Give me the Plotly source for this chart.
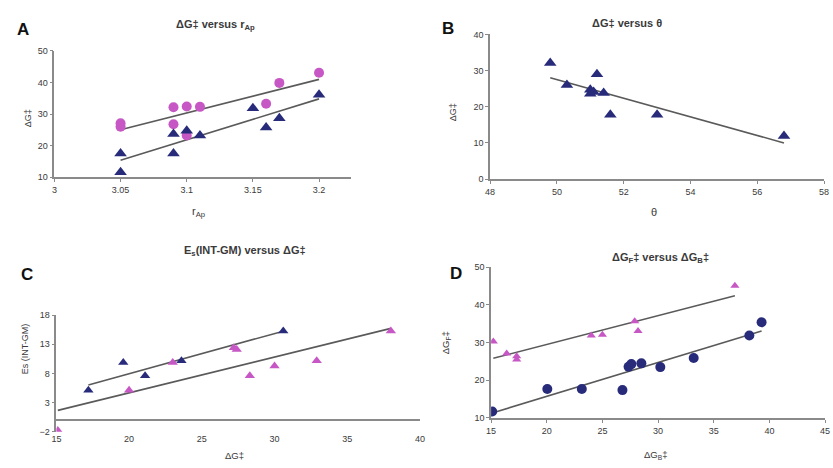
import numpy as np
import plotly.graph_objects as go

W, H = 833, 468

# ---------------- data ----------------
# Panel A: dG versus r_Ap
a_circ_x = [3.05, 3.05, 3.09, 3.09, 3.10, 3.10, 3.11, 3.16, 3.17, 3.20]
a_circ_y = [27.1, 26.0, 32.2, 26.8, 32.4, 23.2, 32.3, 33.3, 39.9, 43.1]
a_tri_x = [3.05, 3.05, 3.09, 3.09, 3.10, 3.11, 3.15, 3.16, 3.17, 3.20]
a_tri_y = [17.5, 11.6, 23.7, 17.5, 24.7, 23.2, 31.9, 25.8, 28.7, 36.1]
a_xticks = [3.0, 3.05, 3.1, 3.15, 3.2]
a_xtext = ["3", "3.05", "3.1", "3.15", "3.2"]

# Panel B: dG versus theta
b_tri_x = [49.8, 50.3, 51.2, 51.0, 51.0, 51.1, 51.4, 51.6, 53.0, 56.8]
b_tri_y = [32.1, 26.0, 29.0, 24.7, 23.6, 24.1, 23.8, 17.8, 17.8, 11.9]

# Panel C: Es(INT-GM) versus dG
c_navy_x = [17.2, 19.6, 21.1, 23.6, 30.6]
c_navy_y = [5.1, 9.9, 7.6, 10.2, 15.3]
c_mag_x = [15.1, 20.0, 23.0, 27.2, 27.4, 28.3, 30.0, 32.9, 38.0]
c_mag_y = [-1.8, 5.1, 9.9, 12.4, 12.1, 7.6, 9.3, 10.2, 15.3]

# Panel D: dG_F versus dG_B
d_mag_x = [15.2, 16.4, 17.3, 17.3, 24.0, 25.0, 27.9, 28.2, 36.9]
d_mag_y = [30.3, 27.1, 26.4, 25.5, 31.9, 32.1, 35.7, 33.1, 45.1]
d_navy_x = [15.1, 20.05, 23.15, 26.8, 27.35, 27.6, 28.5, 30.2, 33.2, 38.2, 39.3]
d_navy_y = [11.7, 17.7, 17.7, 17.4, 23.6, 24.3, 24.5, 23.5, 25.9, 31.9, 35.4]

NAVY = "#272b7a"
MAG = "#c757c4"
LINE = "#5a5a5a"
AX = "#8a8a8a"
TXT = "#3a3a3a"
FONT = "Liberation Sans, Arial, sans-serif"


def px_x(a, b):
    return [a / W, b / W]


def px_y(top, bottom):
    return [1 - bottom / H, 1 - top / H]


fig = go.Figure()


def add_pts(x, y, color, symbol, size, xa, ya):
    fig.add_trace(go.Scatter(x=x, y=y, mode="markers", xaxis=xa, yaxis=ya,
                             marker=dict(color=color, symbol=symbol, size=size,
                                         line=dict(width=0)),
                             showlegend=False, hoverinfo="skip"))


def add_fit(x, y, xa, ya):
    k, c = np.polyfit(x, y, 1)
    xs = [min(x), max(x)]
    ys = [k * v + c for v in xs]
    fig.add_trace(go.Scatter(x=xs, y=ys, mode="lines", xaxis=xa, yaxis=ya,
                             line=dict(color=LINE, width=1.6),
                             showlegend=False, hoverinfo="skip"))


# Panel A
add_fit(a_circ_x, a_circ_y, "x", "y")
add_fit(a_tri_x, a_tri_y, "x", "y")
add_pts(a_circ_x, a_circ_y, MAG, "circle", 10, "x", "y")
add_pts(a_tri_x, a_tri_y, NAVY, "triangle-up", 11, "x", "y")
# Panel B
add_fit(b_tri_x, b_tri_y, "x2", "y2")
add_pts(b_tri_x, b_tri_y, NAVY, "triangle-up", 11, "x2", "y2")
# Panel C
add_fit(c_navy_x, c_navy_y, "x3", "y3")
add_fit(c_mag_x, c_mag_y, "x3", "y3")
add_pts(c_navy_x, c_navy_y, NAVY, "triangle-up", 9, "x3", "y3")
add_pts(c_mag_x, c_mag_y, MAG, "triangle-up", 9, "x3", "y3")
# Panel D
add_fit(d_mag_x, d_mag_y, "x4", "y4")
add_fit(d_navy_x, d_navy_y, "x4", "y4")
add_pts(d_mag_x, d_mag_y, MAG, "triangle-up", 8, "x4", "y4")
add_pts(d_navy_x, d_navy_y, NAVY, "circle", 10, "x4", "y4")

tickfont = dict(family=FONT, size=9, color=TXT)
common = dict(showgrid=False, zeroline=False, showline=True, linecolor=AX,
              linewidth=1.5, ticks="outside", ticklen=3, tickcolor=AX,
              tickfont=tickfont)

fig.update_layout(
    width=W, height=H, margin=dict(l=0, r=0, t=0, b=0, pad=0),
    paper_bgcolor="white", plot_bgcolor="white",
    xaxis=dict(domain=px_x(50, 350), range=[3.0, 3.224], anchor="y",
               tickvals=a_xticks, ticktext=a_xtext, **common),
    yaxis=dict(domain=px_y(47, 176), range=[10, 50], anchor="x",
               tick0=10, dtick=10, **common),
    xaxis2=dict(domain=px_x(491, 829), range=[48, 58], anchor="y2",
                tick0=48, dtick=2, **common),
    yaxis2=dict(domain=px_y(30, 178), range=[0, 40], anchor="x2",
                tick0=0, dtick=10, **common),
    xaxis3=dict(domain=px_x(52, 420), range=[15, 40], anchor="y3",
                tick0=15, dtick=5, **{**common, "showline": False, "ticks": ""}),
    yaxis3=dict(domain=px_y(317, 436), range=[-2, 18], anchor="x3",
                tick0=-2, dtick=5, **{**common, "zeroline": True,
                                       "zerolinecolor": AX, "zerolinewidth": 1.8}),
    xaxis4=dict(domain=px_x(492, 830), range=[15, 45], anchor="y4",
                tick0=15, dtick=5, **common),
    yaxis4=dict(domain=px_y(268, 422), range=[10, 50], anchor="x4",
                tick0=10, dtick=10, **common),
)


def ann(text, x, y, size=10, bold=False, angle=0, color=TXT):
    fig.add_annotation(text=f"<b>{text}</b>" if bold else text,
                       x=x / W, y=1 - y / H, xref="paper", yref="paper",
                       showarrow=False, textangle=angle,
                       font=dict(family=FONT, size=size, color=color),
                       xanchor="center", yanchor="middle")


# panel letters
ann("A", 18, 25, 17, True, color="#111")
ann("B", 448, 24, 17, True, color="#111")
ann("C", 22, 275, 17, True, color="#111")
ann("D", 456, 274, 17, True, color="#111")

# titles
ann("ΔG‡ versus r<sub>Ap</sub>", 213, 20, 11, True)
ann("ΔG‡ versus θ", 630, 18, 11, True)
ann("E<sub>s</sub>(INT-GM) versus ΔG‡", 243, 251, 11, True)
ann("ΔG<sub>F</sub>‡ versus ΔG<sub>B</sub>‡", 663, 259, 11, True)

# axis titles
ann("r<sub>Ap</sub>", 196, 212, 11)
ann("ΔG‡", 23, 116, 9, angle=-90)
ann("θ", 657, 212, 11)
ann("ΔG‡", 453, 110, 9, angle=-90)
ann("ΔG‡", 232, 460, 9.5)
ann("Es (INT-GM)", 20, 351, 9, angle=-90)
ann("ΔG<sub>B</sub>‡", 658, 460, 9.5)
ann("ΔG<sub>F</sub>‡", 446, 345, 9.5, angle=-90)

fig.write_html(
    "out.html",
    config={"displayModeBar": False},
    post_script="document.body.style.margin='0';document.body.style.overflow='hidden';",
)
